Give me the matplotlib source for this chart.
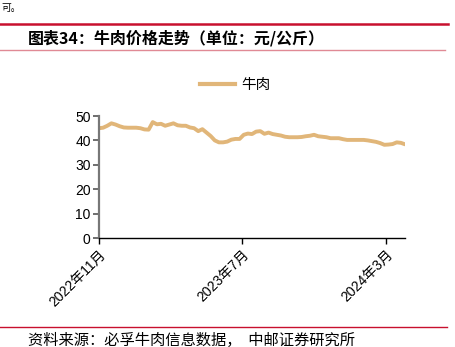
import numpy as np
import pandas as pd
import matplotlib
matplotlib.use("Agg")
import matplotlib.pyplot as plt
from matplotlib.lines import Line2D

plt.rcParams['font.family'] = ['Liberation Sans', 'Noto Sans CJK SC', 'DejaVu Sans']
cjk = ['Noto Sans CJK SC', 'DejaVu Sans']

# weekly beef price, yuan/kg
beef = [45.0, 45.2, 46.0, 47.0, 46.5, 45.8, 45.3, 45.2, 45.2, 45.2,
        45.0, 44.5, 44.4, 47.5, 46.6, 46.8, 46.0, 46.5, 47.0, 46.2,
        46.0, 46.0, 45.3, 45.0, 43.8, 44.6, 43.2, 41.8, 40.0, 39.2,
        39.2, 39.5, 40.3, 40.6, 40.6, 42.3, 42.8, 42.6, 43.6, 43.8,
        42.7, 43.2, 42.6, 42.3, 42.0, 41.5, 41.3, 41.3, 41.3, 41.4,
        41.7, 41.9, 42.3, 41.7, 41.5, 41.3, 40.9, 40.9, 40.9, 40.5,
        40.2, 40.2, 40.2, 40.2, 40.2, 40.0, 39.7, 39.4, 38.9, 38.2,
        38.3, 38.5, 39.2, 39.0, 38.4]
dates = pd.date_range("2022-11-01", periods=len(beef), freq="7D")
tick_dates = pd.to_datetime(["2022-11-01", "2023-07-01", "2024-03-01"])
tick_labels = ["2022年11月", "2023年7月", "2024年3月"]

line_color = "#E1B679"
red = "#C8102E"

fig = plt.figure(figsize=(4.55, 3.47), dpi=100)
W, H = 455, 347

ax = fig.add_axes([99 / W, 1 - 238 / H, (405 - 99) / W, (238 - 116) / H])
ax.plot(dates, beef, color=line_color, lw=2.8, solid_capstyle="round")
ax.set_xlim(dates[0], dates[-1])
ax.set_ylim(0, 50)
ax.set_yticks(range(0, 51, 10))
ax.set_xticks(tick_dates)
ax.set_xticklabels(tick_labels, rotation=45, ha="right", va="top",
                   rotation_mode="anchor")
ax.tick_params(axis="x", direction="out", length=4, width=1, labelsize=10,
               pad=3)
ax.tick_params(axis="y", direction="out", length=4, width=1.2, labelsize=10,
               pad=2, colors="#555555", labelcolor="black")
for s in ["top", "right"]:
    ax.spines[s].set_visible(False)
ax.spines["left"].set_color("#777777")
ax.spines["left"].set_linewidth(1.6)
ax.spines["bottom"].set_color("black")
ax.spines["bottom"].set_linewidth(1)

handle = Line2D([], [], color=line_color, lw=3)
fig.legend([handle], ["牛肉"], loc="center", bbox_to_anchor=(235 / W, 1 - 85 / H),
           frameon=False, prop={'family': cjk, 'size': 10.5},
           handlelength=2.4, handletextpad=0.4)

# header / footer decoration
fig.add_artist(Line2D([0, 448 / W], [1 - 24 / H] * 2, color=red, lw=1.8))
fig.add_artist(Line2D([0, 445 / W], [1 - 50 / H] * 2, color="#E08A95", lw=1.0))
fig.add_artist(Line2D([0, 447 / W], [1 - 327 / H] * 2, color=red, lw=1.0))
fig.text(1 / W, 1 - 8 / H, "可。", fontsize=7, va="center", ha="left", family=cjk)
fig.text(28 / W, 1 - 38 / H, "图表34：牛肉价格走势（单位：元/公斤）", fontsize=11.5,
         fontweight="bold", va="center", ha="left", family=cjk)
fig.text(28 / W, 1 - 340 / H, "资料来源：必孚牛肉信息数据，  中邮证券研究所", fontsize=11,
         va="center", ha="left", family=cjk)

fig.savefig("out.png", dpi=100)
